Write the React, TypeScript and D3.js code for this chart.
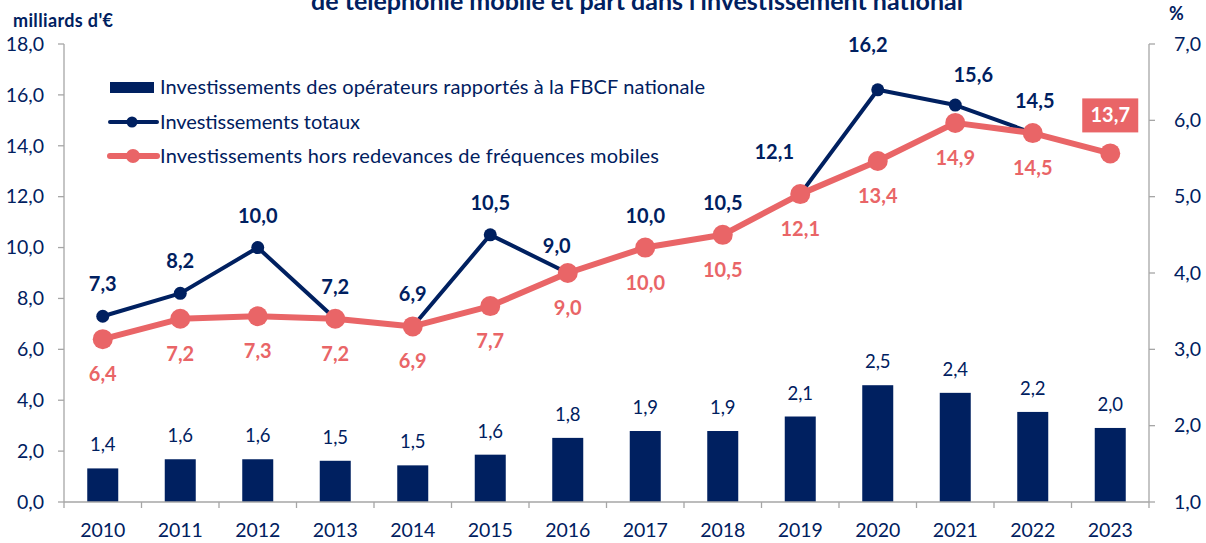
import React from "react";
import * as d3 from "d3";

const years = ["2010","2011","2012","2013","2014","2015","2016","2017","2018","2019","2020","2021","2022","2023"];
const fbcfShare = [1.44, 1.56, 1.56, 1.54, 1.48, 1.62, 1.84, 1.93, 1.93, 2.12, 2.53, 2.43, 2.18, 1.97];
const totalInvest = [7.3, 8.2, 10.0, 7.2, 6.9, 10.5, 9.0, 10.0, 10.5, 12.1, 16.2, 15.6, 14.5, 13.7];
const exclFreqInvest = [6.4, 7.2, 7.3, 7.2, 6.9, 7.7, 9.0, 10.0, 10.5, 12.1, 13.4, 14.9, 14.5, 13.7];
const leftTicks = [0, 2, 4, 6, 8, 10, 12, 14, 16, 18];
const rightTicks = [1, 2, 3, 4, 5, 6, 7];
const legendLabels = [
  "Investissements des opérateurs rapportés à la FBCF nationale",
  "Investissements totaux",
  "Investissements hors redevances de fréquences mobiles",
];
const titleText = "de téléphonie mobile et part dans l'investissement national";

// label placement tweaks (layout only)
const navyLabelShift: Record<string, [number, number]> = {
  "2016": [-11, 5],
  "2019": [-26, -10],
  "2020": [-10, -13],
  "2021": [18, 2],
  "2022": [2, 0],
};

const NAVY = "#002060";
const PINK = "#e96567";
const AXIS = "#a6a6a6";
const FONT = "Lato, 'Open Sans', sans-serif";

const fmt = (v: number) => d3.format(".1f")(v).replace(".", ",");

export default function App() {
  const W = 1206, H = 543;
  const x = d3.scaleBand<string>().domain(years).range([64, 1149]).paddingInner(0.6).paddingOuter(0.3);
  const yL = d3.scaleLinear().domain([0, 18]).range([502, 44]);
  const yR = d3.scaleLinear().domain([1, 7]).range([502, 44]);
  const cx = (y: string) => (x(y) as number) + x.bandwidth() / 2;
  const step = x.step();
  const boundaries = years.map((y) => (x(y) as number) - (step - x.bandwidth()) / 2).concat([1149]);

  const line = d3.line<number>().x((_, i) => cx(years[i])).y((d) => yL(d));

  const navyLast = years.length - 1;
  const TICK_FS = 19.5;
  const LBL_FS = 20;

  return (
    <svg width={W} height={H} style={{ position: "absolute", left: 0, top: 0, background: "#fff" }} fontFamily={FONT}>
      <text x={637} y={10} textAnchor="middle" fontSize={25} fontWeight={700} fill={NAVY}>{titleText}</text>
      <text x={13} y={27} fontSize={18} fontWeight={700} fill={NAVY} textLength={100}>milliards d'€</text>
      <text x={1169} y={20} fontSize={18} fontWeight={700} fill={NAVY}>%</text>

      {/* bars */}
      {years.map((y, i) => (
        <rect key={"b" + y} x={x(y)} y={yR(fbcfShare[i])} width={x.bandwidth()} height={yR(1) - yR(fbcfShare[i])} fill={NAVY} />
      ))}
      {years.map((y, i) => (
        <text key={"bl" + y} x={cx(y)} y={yR(fbcfShare[i]) - 17} textAnchor="middle" fontSize={18.5} fill={NAVY}>{fmt(fbcfShare[i])}</text>
      ))}

      {/* axes */}
      <line x1={64} x2={64} y1={44} y2={502} stroke={AXIS} strokeWidth={1.3} />
      {leftTicks.map((t) => (
        <g key={"lt" + t}>
          <line x1={58} x2={64} y1={yL(t)} y2={yL(t)} stroke={AXIS} strokeWidth={1.3} />
          <text x={44} y={yL(t)} dy="0.35em" textAnchor="end" fontSize={TICK_FS} fill={NAVY}>{fmt(t)}</text>
        </g>
      ))}
      <line x1={1149} x2={1149} y1={44} y2={502} stroke={AXIS} strokeWidth={1.3} />
      {rightTicks.map((t) => (
        <g key={"rt" + t}>
          <line x1={1149} x2={1155} y1={yR(t)} y2={yR(t)} stroke={AXIS} strokeWidth={1.3} />
          <text x={1174} y={yR(t)} dy="0.35em" textAnchor="start" fontSize={TICK_FS} fill={NAVY}>{fmt(t)}</text>
        </g>
      ))}
      <line x1={64} x2={1149} y1={502} y2={502} stroke={AXIS} strokeWidth={1.3} />
      {boundaries.map((b, i) => (
        <line key={"xt" + i} x1={b} x2={b} y1={502} y2={508} stroke={AXIS} strokeWidth={1.3} />
      ))}
      {years.map((y) => (
        <text key={"xl" + y} x={cx(y)} y={537} textAnchor="middle" fontSize={TICK_FS} fill={NAVY}>{y}</text>
      ))}

      {/* lines */}
      <path d={line(totalInvest) || ""} fill="none" stroke={NAVY} strokeWidth={4} strokeLinejoin="round" />
      {years.map((y, i) => (
        <circle key={"nc" + y} cx={cx(y)} cy={yL(totalInvest[i])} r={6.5} fill={NAVY} />
      ))}
      <path d={line(exclFreqInvest) || ""} fill="none" stroke={PINK} strokeWidth={6} strokeLinejoin="round" />
      {years.map((y, i) => (
        <circle key={"pc" + y} cx={cx(y)} cy={yL(exclFreqInvest[i])} r={10} fill={PINK} />
      ))}

      {/* labels */}
      {years.map((y, i) => {
        if (i === navyLast) return null;
        const s = navyLabelShift[y] || [0, 0];
        return (
          <text key={"nl" + y} x={cx(y) + s[0]} y={yL(totalInvest[i]) - 25 + s[1]} textAnchor="middle" fontSize={LBL_FS} fontWeight={700} fill={NAVY}>{fmt(totalInvest[i])}</text>
        );
      })}
      {years.map((y, i) => {
        if (i === navyLast) return null;
        return (
          <text key={"pl" + y} x={cx(y)} y={yL(exclFreqInvest[i]) + 42} textAnchor="middle" fontSize={LBL_FS} fontWeight={700} fill={PINK}>{fmt(exclFreqInvest[i])}</text>
        );
      })}
      {(() => {
        const y = years[navyLast];
        const px = cx(y), py = yL(exclFreqInvest[navyLast]);
        return (
          <g>
            <rect x={px - 28} y={py - 55} width={56} height={34} fill={PINK} />
            <text x={px} y={py - 31} textAnchor="middle" fontSize={LBL_FS} fontWeight={700} fill="#fff">{fmt(exclFreqInvest[navyLast])}</text>
          </g>
        );
      })()}

      {/* legend */}
      <rect x={110} y={82} width={44} height={11} fill={NAVY} />
      <text x={160} y={94} fontSize={20} fill={NAVY} textLength={545}>{legendLabels[0]}</text>
      <line x1={110} x2={157} y1={122} y2={122} stroke={NAVY} strokeWidth={4} strokeLinecap="round" />
      <circle cx={132} cy={122} r={5.5} fill={NAVY} />
      <text x={160} y={129} fontSize={20} fill={NAVY} textLength={200}>{legendLabels[1]}</text>
      <line x1={110} x2={157} y1={156} y2={156} stroke={PINK} strokeWidth={6} strokeLinecap="round" />
      <circle cx={133} cy={156} r={7} fill={PINK} />
      <text x={160} y={163} fontSize={20} fill={NAVY} textLength={499}>{legendLabels[2]}</text>
    </svg>
  );
}
